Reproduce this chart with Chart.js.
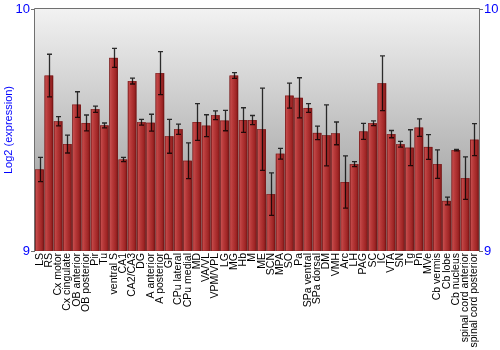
<!DOCTYPE html>
<html>
<head>
<meta charset="utf-8">
<script src="https://cdn.jsdelivr.net/npm/chart.js@4/dist/chart.umd.min.js"></script>
<style>
  html, body { margin: 0; padding: 0; background: #ffffff; }
  #wrap { width: 500px; height: 350px; }
</style>
</head>
<body>
<div id="wrap"><canvas id="c" width="500" height="350"></canvas></div>
<script>
const categories = ["LS","RS","Cx motor","Cx cingulate","OB anterior","OB posterior","Pir","Tu","ventral S","CA1","CA2/CA3","DG","A anterior","A posterior","GP","CPu lateral","CPu medial","MD","VA/VL","VPM/VPL","LG","MG","Hb","M","ME","SCN","MPA","SO","Pa","SPa ventral","SPa dorsal","DM","VMH","Arc","LH","PAG","SC","IC","VTA","SN","Tg","Pn","MVe","Cb vermis","Cb lobe","Cb nucleus","spinal cord anterior","spinal cord posterior"];
const values = [9.337,9.725,9.536,9.442,9.605,9.529,9.586,9.519,9.798,9.378,9.702,9.532,9.530,9.735,9.474,9.503,9.373,9.533,9.518,9.561,9.539,9.725,9.541,9.541,9.503,9.235,9.402,9.642,9.633,9.591,9.488,9.478,9.486,9.285,9.359,9.494,9.528,9.693,9.483,9.441,9.427,9.510,9.430,9.359,9.207,9.417,9.301,9.460];
const errors = [0.050,0.088,0.019,0.037,0.053,0.033,0.013,0.010,0.039,0.009,0.012,0.012,0.035,0.089,0.070,0.021,0.074,0.076,0.045,0.018,0.042,0.012,0.051,0.019,0.170,0.088,0.022,0.052,0.083,0.018,0.028,0.126,0.047,0.108,0.010,0.033,0.010,0.113,0.015,0.012,0.074,0.036,0.051,0.059,0.016,0.003,0.088,0.066];
const yTicks = [9, 10];
const yMin = 9, yMax = 10;

const bgPlugin = {
  id: 'bg',
  beforeDraw(chart) {
    const {ctx, chartArea: a} = chart;
    const g = ctx.createLinearGradient(0, a.top, 0, a.bottom);
    g.addColorStop(0, '#f2f2f2');
    g.addColorStop(1, '#8e8e8e');
    ctx.save();
    ctx.fillStyle = g;
    ctx.fillRect(a.left, a.top, a.right - a.left, a.bottom - a.top);
    ctx.restore();
  },
  afterDatasetsDraw(chart) {
    const {ctx, chartArea: a} = chart;
    const meta = chart.getDatasetMeta(0);
    const ys = chart.scales.y;
    ctx.save();
    ctx.beginPath();
    ctx.rect(a.left, a.top, a.right - a.left, a.bottom - a.top);
    ctx.clip();
    meta.data.forEach((el, i) => {
      const l = el.x - el.width / 2, r = el.x + el.width / 2;
      const top = el.y, bot = Math.min(el.base, a.bottom);
      const g = ctx.createLinearGradient(l, 0, r, 0);
      g.addColorStop(0, '#8a2020');
      g.addColorStop(0.12, '#c44b4b');
      g.addColorStop(0.35, '#b83a3a');
      g.addColorStop(0.75, '#a02626');
      g.addColorStop(1, '#7c1616');
      ctx.fillStyle = g;
      ctx.fillRect(l, top, r - l, bot - top);
      ctx.strokeStyle = 'rgba(110,20,20,0.8)';
      ctx.lineWidth = 0.6;
      ctx.strokeRect(l + 0.3, top + 0.3, r - l - 0.6, bot - top - 0.3);
    });
    // error bars
    ctx.strokeStyle = 'rgba(0,0,0,0.8)';
    ctx.lineWidth = 1.3;
    meta.data.forEach((el, i) => {
      const yHi = ys.getPixelForValue(values[i] + errors[i]);
      const yLo = ys.getPixelForValue(values[i] - errors[i]);
      const x = Math.round(el.x) + 0.5;
      ctx.beginPath();
      ctx.moveTo(x, yHi); ctx.lineTo(x, yLo);
      ctx.moveTo(x - 2.5, yHi); ctx.lineTo(x + 2.5, yHi);
      ctx.moveTo(x - 2.5, yLo); ctx.lineTo(x + 2.5, yLo);
      ctx.stroke();
    });
    ctx.restore();
    // frame
    ctx.save();
    ctx.strokeStyle = '#707070';
    ctx.lineWidth = 1;
    ctx.beginPath();
    ctx.moveTo(a.left - 0.5, a.bottom); ctx.lineTo(a.left - 0.5, a.top - 0.5);
    ctx.lineTo(a.right + 0.5, a.top - 0.5); ctx.lineTo(a.right + 0.5, a.bottom);
    ctx.stroke();
    ctx.restore();
  }
};

new Chart(document.getElementById('c'), {
  type: 'bar',
  data: {
    labels: categories,
    datasets: [{
      data: values,
      backgroundColor: 'rgba(0,0,0,0)',
      borderWidth: 0,
      barPercentage: 0.93,
      categoryPercentage: 1.0
    }]
  },
  options: {
    responsive: false,
    animation: false,
    layout: { padding: { top: 9, left: 0, right: 0, bottom: 0 } },
    plugins: { legend: { display: false }, tooltip: { enabled: false } },
    scales: {
      x: {
        grid: { display: false, drawTicks: false },
        border: { display: false },
        ticks: {
          autoSkip: false, maxRotation: 90, minRotation: 90,
          color: '#000', padding: 2,
          font: { family: 'Liberation Sans, Arial, sans-serif', size: 10.5 }
        },
        afterFit(s) { s.height = 99; }
      },
      y: {
        min: yMin, max: yMax,
        afterBuildTicks(s) { s.ticks = yTicks.map(v => ({ value: v })); },
        grid: { drawOnChartArea: false, tickLength: 4, color: '#707070' },
        border: { display: false },
        ticks: { color: '#0000ff', padding: 1, font: { family: 'Liberation Sans, Arial, sans-serif', size: 13 } },
        title: { display: true, text: 'Log2 (expression)', color: '#0000ff', padding: { top: 2, bottom: 0 },
                 font: { family: 'Liberation Sans, Arial, sans-serif', size: 11 } },
        afterFit(s) { s.width = 35; }
      },
      y2: {
        position: 'right',
        min: yMin, max: yMax,
        afterBuildTicks(s) { s.ticks = yTicks.map(v => ({ value: v })); },
        grid: { drawOnChartArea: false, tickLength: 4, color: '#707070' },
        border: { display: false },
        ticks: { color: '#0000ff', padding: 1, font: { family: 'Liberation Sans, Arial, sans-serif', size: 13 } },
        afterFit(s) { s.width = 21; }
      }
    }
  },
  plugins: [bgPlugin]
});
</script>
</body>
</html>
